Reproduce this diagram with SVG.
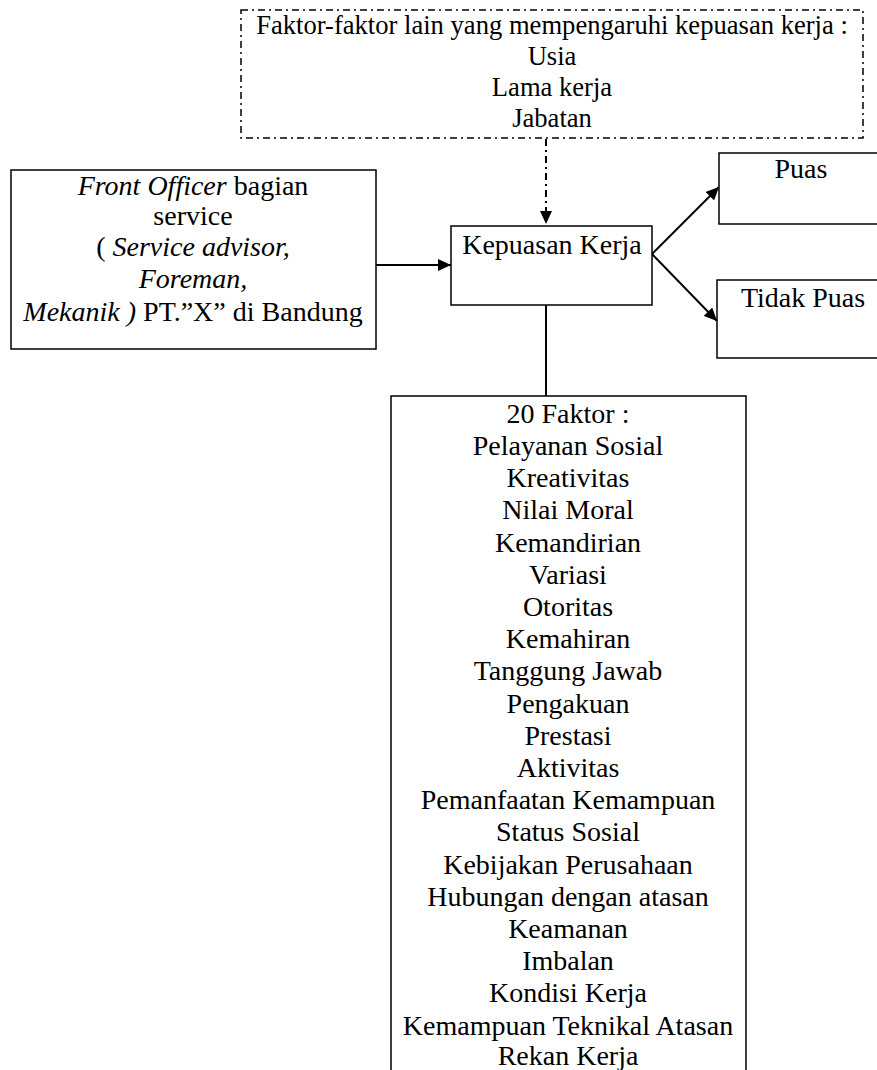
<svg xmlns="http://www.w3.org/2000/svg" width="877" height="1070" viewBox="0 0 877 1070">
<defs>
<marker id="ah" markerUnits="userSpaceOnUse" markerWidth="13" markerHeight="12" refX="13" refY="6" orient="auto">
<path d="M0,0 L13,6 L0,12 z" fill="#000"/>
</marker>
<style>
.box{fill:#fff;stroke:#000;stroke-width:1.5}
.dbox{fill:none;stroke:#000;stroke-width:1.5;stroke-dasharray:7 4 2 4}
.t{font-family:"Liberation Serif","Times New Roman",serif;font-size:28px;fill:#000;text-anchor:middle}
.ts{font-size:26.6px}
.line{stroke:#000;stroke-width:2;fill:none}
</style>
</defs>
<rect x="0" y="0" width="877" height="1070" fill="#fff"/>
<g id="connectors">
<line class="line" x1="546" y1="139" x2="546" y2="224" stroke-dasharray="7 4 2 4" marker-end="url(#ah)"/>
<line class="line" x1="376" y1="265" x2="451" y2="265" marker-end="url(#ah)"/>
<line class="line" x1="652" y1="254" x2="719" y2="187" marker-end="url(#ah)"/>
<line class="line" x1="652" y1="254" x2="717" y2="321" marker-end="url(#ah)"/>
<line class="line" x1="546" y1="305" x2="546" y2="396" stroke-width="1.5"/>
</g>
<g id="faktor-lain">
<rect class="dbox" x="241" y="10" width="622" height="128"/>
<text class="t ts" x="552" y="34">Faktor-faktor lain yang mempengaruhi kepuasan kerja :</text>
<text class="t ts" x="552" y="65">Usia</text>
<text class="t ts" x="552" y="96">Lama kerja</text>
<text class="t ts" x="552" y="127">Jabatan</text>
</g>
<g id="front-officer">
<rect class="box" x="11" y="170" width="365" height="179"/>
<text class="t" x="193" y="195"><tspan font-style="italic">Front Officer</tspan> bagian</text>
<text class="t" x="193" y="225">service</text>
<text class="t" x="193" y="256">( <tspan font-style="italic">Service advisor,</tspan></text>
<text class="t" x="193" y="288" font-style="italic">Foreman,</text>
<text class="t" x="193" y="321"><tspan font-style="italic">Mekanik )</tspan> PT.”X” di Bandung</text>
</g>
<g id="kepuasan">
<rect class="box" x="451" y="226" width="201" height="79"/>
<text class="t" x="552" y="254">Kepuasan Kerja</text>
</g>
<g id="puas">
<rect class="box" x="719" y="153" width="170" height="71"/>
<text class="t" x="801" y="178">Puas</text>
</g>
<g id="tidak-puas">
<rect class="box" x="717" y="280" width="172" height="78"/>
<text class="t" x="803" y="307">Tidak Puas</text>
</g>
<g id="faktor-20">
<rect class="box" x="391" y="396" width="355" height="690"/>
<text class="t" x="568" y="423">20 Faktor :</text>
<text class="t" x="568" y="455">Pelayanan Sosial</text>
<text class="t" x="568" y="487">Kreativitas</text>
<text class="t" x="568" y="519">Nilai Moral</text>
<text class="t" x="568" y="552">Kemandirian</text>
<text class="t" x="568" y="584">Variasi</text>
<text class="t" x="568" y="616">Otoritas</text>
<text class="t" x="568" y="648">Kemahiran</text>
<text class="t" x="568" y="680">Tanggung Jawab</text>
<text class="t" x="568" y="713">Pengakuan</text>
<text class="t" x="568" y="745">Prestasi</text>
<text class="t" x="568" y="777">Aktivitas</text>
<text class="t" x="568" y="809">Pemanfaatan Kemampuan</text>
<text class="t" x="568" y="841">Status Sosial</text>
<text class="t" x="568" y="874">Kebijakan Perusahaan</text>
<text class="t" x="568" y="906">Hubungan dengan atasan</text>
<text class="t" x="568" y="938">Keamanan</text>
<text class="t" x="568" y="970">Imbalan</text>
<text class="t" x="568" y="1002">Kondisi Kerja</text>
<text class="t" x="568" y="1035">Kemampuan Teknikal Atasan</text>
<text class="t" x="568" y="1065">Rekan Kerja</text>
</g>
</svg>
